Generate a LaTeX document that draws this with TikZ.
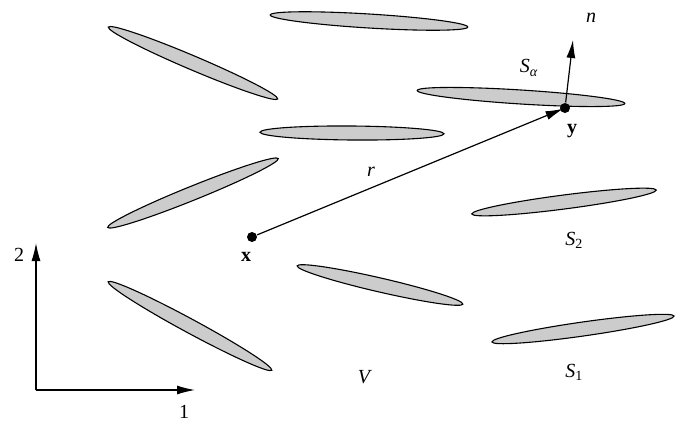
\documentclass[tikz,border=0pt]{standalone}
\usepackage{fontspec}
\setmainfont{Liberation Serif}
\usetikzlibrary{arrows.meta}

\begin{document}
\begin{tikzpicture}[x=1pt,y=-1pt, line width=1.2pt, plate/.style={draw,fill=black!20,line width=1.1pt}, dot/.style={circle,fill,inner sep=0pt,minimum size=10pt}, lbl/.style={font=\fontsize{20}{24}\selectfont}, >={Latex[length=18pt,width=9pt]}]
\useasboundingbox (0,0) rectangle (680,426);
\foreach \cx/\cy/\len/\r in {369/21/99/-3.5, 193/63/92/-23, 521/97/104/-3.6, 352/133/92/-0.5, 193/193/92/22, 564/202/93/7.4, 380/285/85/-13, 190/326/93/-28.4, 583/329/92/8.1}
  \draw[plate,rotate around={\r:(\cx,\cy)}] (\cx,\cy) ellipse [x radius=\len, y radius=7];
\node[dot] (px) at (252,237) {};
\node[dot] (py) at (565,108) {};
\coordinate (ntip) at (573,40);
\draw[->,shorten >=-4pt] (px) -- (py);
\draw[->] (py) -- (ntip);
\node[lbl] (rlab) at (371,172) {\textit{r}};
\node[lbl] (xlab) at (246,257) {\textbf{x}};
\node[lbl] (ylab) at (572,131) {\textbf{y}};
\node[lbl] (nlab) at (591,18) {\textit{n}};
\node[lbl] (salab) at (529,68) {\textit{S}\textsubscript{\textit{α}}};
\node[lbl] (s2lab) at (574,240) {\textit{S}\textsubscript{2}};
\node[lbl] (s1lab) at (574,372) {\textit{S}\textsubscript{1}};
\node[lbl] (vlab) at (365,377) {\textit{V}};
% axes
\coordinate (orig) at (36,390);
\coordinate (ax2) at (36,243);
\coordinate (ax1) at (195,390);
\draw[->] (orig) -- (ax2);
\draw[->] (orig) -- (ax1);
\node[lbl] (l2) at (19,255) {2};
\node[lbl] (l1) at (184,412) {1};
\end{tikzpicture}
\end{document}
